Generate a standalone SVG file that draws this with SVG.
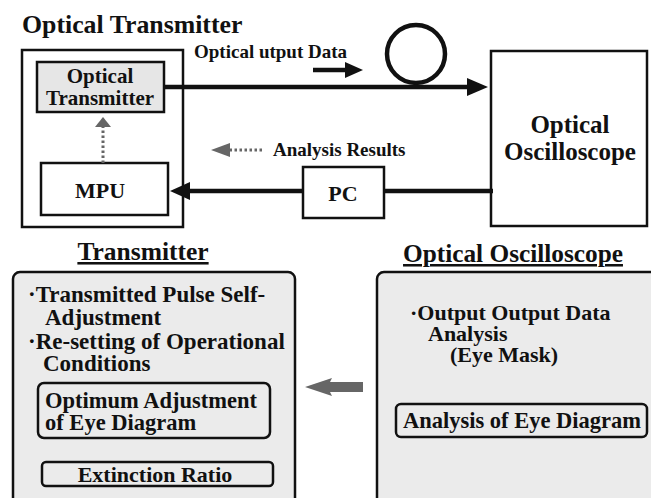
<svg xmlns="http://www.w3.org/2000/svg" width="651" height="498" viewBox="0 0 651 498" style="font-family:'Liberation Serif','Times New Roman',serif;font-weight:bold">
<defs>
<style>
text{fill:#111}
.box{fill:#fff;stroke:#111;stroke-width:2.5}
.gbox{fill:#ebebeb;stroke:#111;stroke-width:2.5}
.thick{stroke:#111;stroke-width:4.5;fill:none}
.dot{stroke:#666;stroke-width:3;stroke-dasharray:2.5 2.5;fill:none}
.c{text-anchor:middle}
</style>
</defs>
<text x="22" y="33" font-size="25.8">Optical Transmitter</text>

<g id="transmitter-unit">
<rect class="box" x="22" y="50" width="161" height="177"/>
</g>
<g id="optical-transmitter">
<rect x="37" y="62" width="127" height="50" fill="#e6e6e6" stroke="#111" stroke-width="2.5"/>
<text class="c" x="100" y="83" font-size="21">Optical</text>
<text class="c" x="100" y="105" font-size="21">Transmitter</text>
</g>
<g id="mpu">
<rect class="box" x="41" y="163" width="127" height="52"/>
<text class="c" x="100" y="198" font-size="22">MPU</text>
</g>
<g id="fiber">
<circle cx="416" cy="54" r="29" fill="none" stroke="#111" stroke-width="4.5"/>
</g>
<g id="optical-oscilloscope">
<rect class="box" x="491" y="51" width="156" height="175"/>
<text class="c" x="570" y="133" font-size="25">Optical</text>
<text class="c" x="570" y="160" font-size="25">Oscilloscope</text>
</g>
<g id="pc">
<rect class="box" x="303" y="167" width="81" height="51"/>
<text class="c" x="343" y="201" font-size="22">PC</text>
</g>
<text x="194" y="58" font-size="19">Optical utput Data</text>
<text x="273" y="156" font-size="19">Analysis Results</text>

<g id="connectors">
<line class="thick" x1="164" y1="87" x2="470" y2="87"/>
<path d="M467,78 L488,87 L467,96 z" fill="#111"/>
<line class="thick" x1="313" y1="70" x2="347" y2="70"/>
<path d="M345,62 L363,70 L345,78 z" fill="#111"/>
<line class="thick" x1="493" y1="191" x2="384" y2="191"/>
<line class="thick" x1="303" y1="191" x2="188" y2="191"/>
<path d="M190,182 L170,191 L190,200 z" fill="#111"/>
<line class="dot" x1="103" y1="163" x2="103" y2="127"/>
<path d="M95,127 L103,117 L111,127 z" fill="#666"/>
<line class="dot" x1="262" y1="150" x2="229" y2="150"/>
<path d="M230,143 L211,150 L230,157 z" fill="#666"/>
<path d="M305,387 L332,378 L330,382 L363,382 L363,392 L330,392 L332,396 z" fill="#666"/>
<line x1="153" y1="438" x2="153" y2="462" stroke="#111" stroke-width="2"/>
</g>

<text class="c" x="143" y="260" font-size="25.5" text-decoration="underline">Transmitter</text>
<g id="transmitter-panel">
<rect class="gbox" x="13" y="272" width="282" height="240" rx="7"/>
<text x="28" y="302" font-size="23">·Transmitted Pulse Self-</text>
<text x="45" y="325" font-size="23">Adjustment</text>
<text x="28" y="349" font-size="23">·Re-setting of Operational</text>
<text x="43" y="371" font-size="23">Conditions</text>
</g>
<g id="optimum-adjustment">
<rect class="gbox" x="38" y="383" width="232" height="55" rx="6"/>
<text x="45" y="408" font-size="22.5">Optimum Adjustment</text>
<text x="45" y="430" font-size="22.5">of Eye Diagram</text>
</g>
<g id="extinction-ratio">
<rect class="gbox" x="42" y="462" width="231" height="24" rx="4"/>
<text class="c" x="155" y="482" font-size="22">Extinction  Ratio</text>
</g>

<text class="c" x="513" y="262" font-size="25.3" text-decoration="underline">Optical Oscilloscope</text>
<g id="oscilloscope-panel">
<rect class="gbox" x="377" y="272" width="290" height="240" rx="7"/>
<text x="410" y="320" font-size="22">·Output Output Data</text>
<text x="428" y="341" font-size="22">Analysis</text>
<text x="450" y="362" font-size="22">(Eye Mask)</text>
</g>
<g id="eye-diagram-analysis">
<rect class="gbox" x="396" y="404" width="251" height="33" rx="5"/>
<text class="c" x="522" y="428" font-size="22.5">Analysis of Eye Diagram</text>
</g>
</svg>
